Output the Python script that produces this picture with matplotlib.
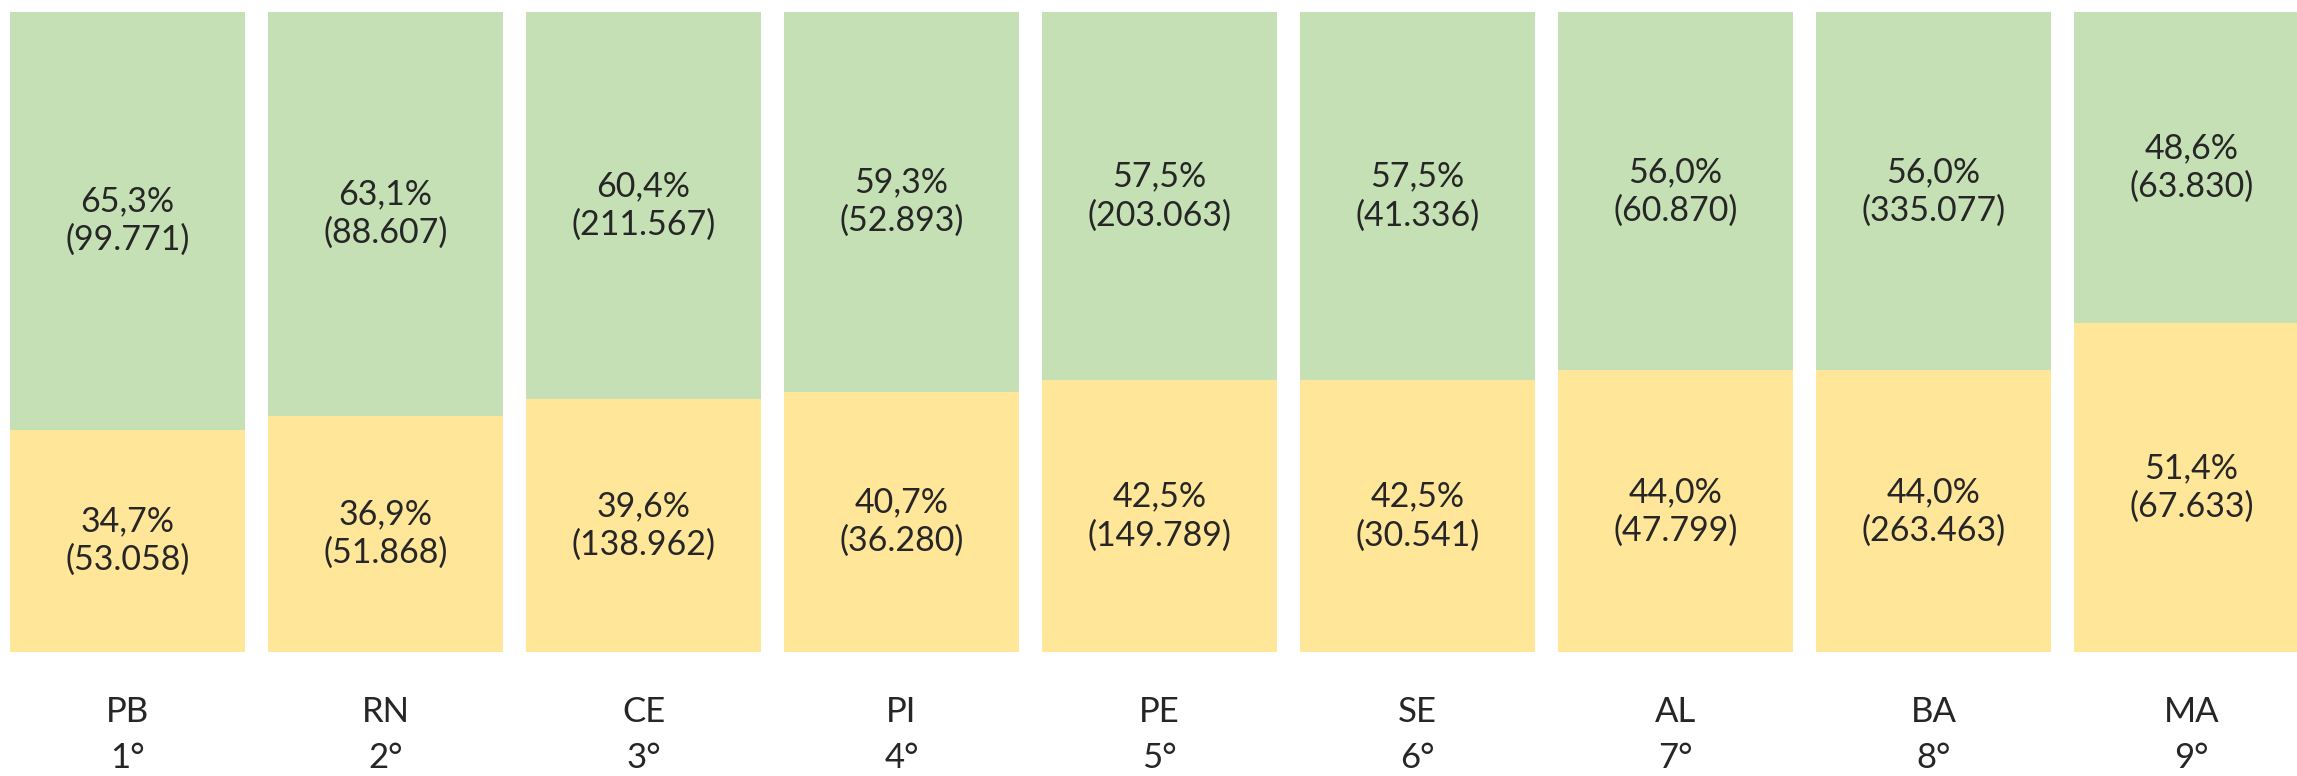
import matplotlib.pyplot as plt

plt.rcParams['font.family'] = ['Lato', 'DejaVu Sans']

estados = ["PB", "RN", "CE", "PI", "PE", "SE", "AL", "BA", "MA"]
posicao = ["1°", "2°", "3°", "4°", "5°", "6°", "7°", "8°", "9°"]

pct_verde = [65.3, 63.1, 60.4, 59.3, 57.5, 57.5, 56.0, 56.0, 48.6]
qtd_verde = [99771, 88607, 211567, 52893, 203063, 41336, 60870, 335077, 63830]

pct_amarelo = [34.7, 36.9, 39.6, 40.7, 42.5, 42.5, 44.0, 44.0, 51.4]
qtd_amarelo = [53058, 51868, 138962, 36280, 149789, 30541, 47799, 263463, 67633]

cor_verde = "#C5E0B4"
cor_amarelo = "#FFE699"
cor_texto = "#262626"


def rotulo(p, n):
    return f"{p:.1f}".replace(".", ",") + "%\n(" + f"{n:,}".replace(",", ".") + ")"


fig = plt.figure(figsize=(22.97, 7.76), dpi=100)
ax = fig.add_axes([0, 124 / 776, 1, 640 / 776])

x = list(range(len(estados)))
larg = 235 / 258

ax.bar(x, pct_amarelo, width=larg, color=cor_amarelo)
ax.bar(x, pct_verde, width=larg, bottom=pct_amarelo, color=cor_verde)

for i in x:
    ax.text(i, pct_amarelo[i] / 2, rotulo(pct_amarelo[i], qtd_amarelo[i]),
            ha="center", va="center", fontsize=24.5, color=cor_texto, linespacing=1.25)
    ax.text(i, pct_amarelo[i] + pct_verde[i] / 2, rotulo(pct_verde[i], qtd_verde[i]),
            ha="center", va="center", fontsize=24.5, color=cor_texto, linespacing=1.25)
    ax.text(i, -9.4, estados[i], ha="center", va="center", fontsize=25,
            color=cor_texto, clip_on=False)
    ax.text(i, -16.6, posicao[i], ha="center", va="center", fontsize=25,
            color=cor_texto, clip_on=False)

ax.set_xlim(-127.5 / 258, (2297 - 127.5) / 258)
ax.set_ylim(0, 100)
ax.axis("off")

fig.savefig("out.png", dpi=100)
